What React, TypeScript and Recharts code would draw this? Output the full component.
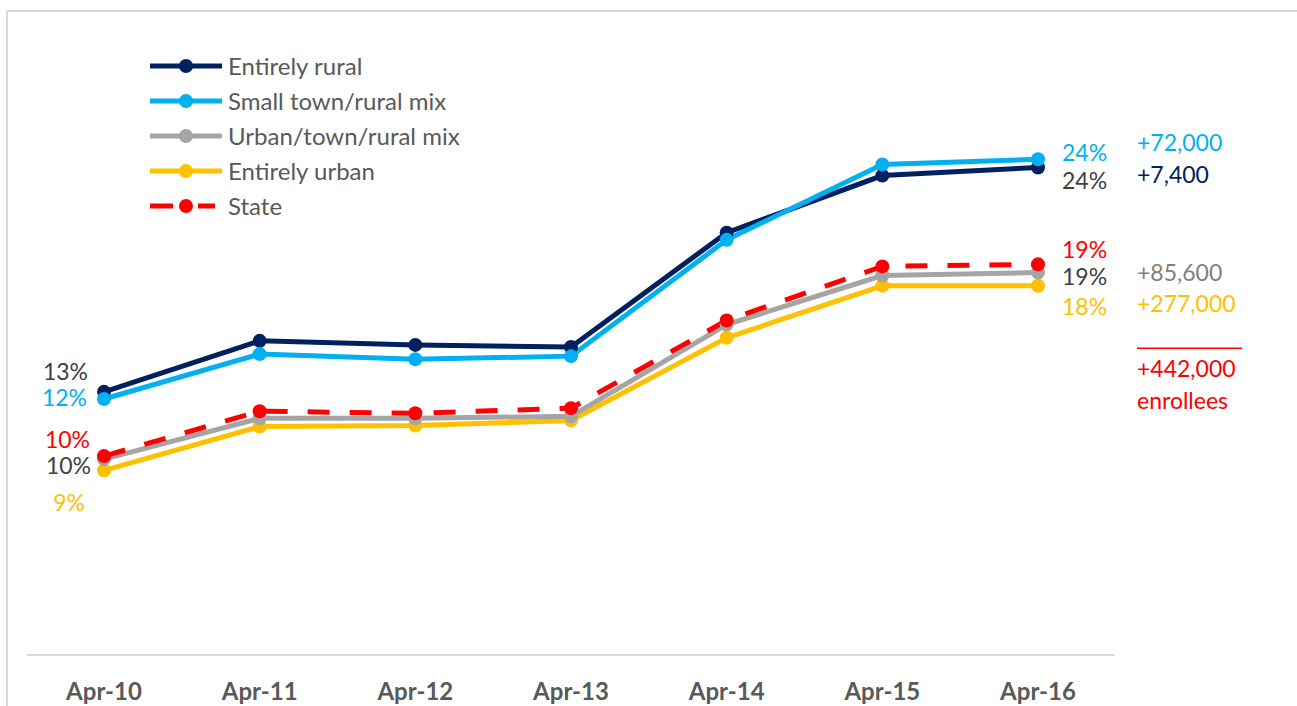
import { LabelList, Line, LineChart, XAxis, YAxis } from "recharts";

const months = ["Apr-10", "Apr-11", "Apr-12", "Apr-13", "Apr-14", "Apr-15", "Apr-16"];

// share of population enrolled, %
const entirelyRural = [12.9, 15.4, 15.2, 15.1, 20.7, 23.5, 23.9];
const smallTownRuralMix = [12.55, 14.75, 14.5, 14.65, 20.35, 24.05, 24.3];
const urbanTownRuralMix = [9.6, 11.6, 11.6, 11.7, 16.2, 18.6, 18.75];
const entirelyUrban = [9.05, 11.2, 11.25, 11.5, 15.55, 18.1, 18.1];
const stateTotal = [9.75, 11.95, 11.85, 12.1, 16.4, 19.05, 19.15];

const startLabels = ["13%", "12%", "10%", "9%", "10%"];
const endLabels = ["24%", "24%", "19%", "18%", "19%"];
const enrolleeChange = ["+7,400", "+72,000", "+85,600", "+277,000"];
const totalChange = "+442,000";
const totalChangeUnit = "enrollees";

const FONT = "Lato, 'Open Sans', sans-serif";
const FS = 24;
const LABEL_FS = 23;

type SeriesStyle = {
  key: string;
  name: string;
  color: string;
  labelColor: string;
  changeColor?: string;
  dashed?: boolean;
  startDx: number;
  startDy: number;
  endDy: number;
  changeDy: number;
};

const series: SeriesStyle[] = [
  { key: "rural", name: "Entirely rural", color: "#002060", labelColor: "#404040", changeColor: "#002060", startDx: -16, startDy: -21, endDy: 13, changeDy: 7 },
  { key: "small", name: "Small town/rural mix", color: "#00B0F0", labelColor: "#00B0F0", changeColor: "#00B0F0", startDx: -17, startDy: -2, endDy: -7, changeDy: -17 },
  { key: "mixed", name: "Urban/town/rural mix", color: "#A5A5A5", labelColor: "#404040", changeColor: "#7F7F7F", startDx: -13, startDy: 6, endDy: 3, changeDy: -1 },
  { key: "urban", name: "Entirely urban", color: "#FFC000", labelColor: "#FFC000", changeColor: "#FFC000", startDx: -19, startDy: 32, endDy: 20, changeDy: 17 },
  { key: "state", name: "State", color: "#FF0000", labelColor: "#FF0000", dashed: true, startDx: -14, startDy: -17, endDy: -15, changeDy: 0 },
];

const data = months.map((month, i) => ({
  month,
  rural: entirelyRural[i],
  small: smallTownRuralMix[i],
  mixed: urbanTownRuralMix[i],
  urban: entirelyUrban[i],
  state: stateTotal[i],
}));

const drawOrder = [0, 1, 3, 2, 4];

function makeLabel(idx: number) {
  const s = series[idx];
  return (props: any) => {
    const x = props.viewBox?.x ?? props.x;
    const y = props.viewBox?.y ?? props.y;
    const textProps = { dominantBaseline: "central" as const, fontSize: LABEL_FS, fontFamily: FONT };
    if (props.index === 0) {
      return (
        <text x={x + s.startDx} y={y + s.startDy} textAnchor="end" fill={s.labelColor} {...textProps}>
          {startLabels[idx]}
        </text>
      );
    }
    if (props.index === months.length - 1) {
      return (
        <g>
          <text x={x + 24} y={y + s.endDy} textAnchor="start" fill={s.labelColor} {...textProps}>
            {endLabels[idx]}
          </text>
          {s.changeColor && (
            <text x={x + 99} y={y + s.changeDy} textAnchor="start" fill={s.changeColor} {...textProps}>
              {enrolleeChange[idx]}
            </text>
          )}
          {s.key === "state" && (
            <g>
              <line x1={x + 99} x2={x + 204} y1={y + 84} y2={y + 84} stroke="#FF0000" strokeWidth={1.5} />
              <text x={x + 99} y={y + 104} fill="#FF0000" {...textProps}>{totalChange}</text>
              <text x={x + 99} y={y + 136} fill="#FF0000" {...textProps}>{totalChangeUnit}</text>
            </g>
          )}
        </g>
      );
    }
    return null;
  };
}

function LegendBox() {
  return (
    <div style={{ position: "absolute", left: 150, top: 48, fontFamily: FONT, fontSize: FS, color: "#595959" }}>
      {series.map((s) => (
        <div key={s.key} style={{ display: "flex", alignItems: "center", height: 35 }}>
          <svg width={72} height={16} style={{ marginRight: 6 }}>
            {s.dashed ? (
              <>
                <line x1={0} x2={23} y1={8} y2={8} stroke={s.color} strokeWidth={5} />
                <line x1={48} x2={65} y1={8} y2={8} stroke={s.color} strokeWidth={5} />
              </>
            ) : (
              <line x1={0} x2={72} y1={8} y2={8} stroke={s.color} strokeWidth={5} strokeLinecap="round" />
            )}
            <circle cx={36} cy={8} r={7} fill={s.color} />
          </svg>
          <span>{s.name}</span>
        </div>
      ))}
    </div>
  );
}

export default function App() {
  return (
    <div style={{ position: "absolute", left: 0, top: 0, width: 1297, height: 706, background: "#fff", fontFamily: FONT }}>
      <div
        style={{
          position: "absolute",
          left: 6,
          top: 10,
          right: 0,
          bottom: 0,
          borderTop: "2px solid #d9d9d9",
          borderLeft: "2px solid #d9d9d9",
        }}
      />
      <LineChart width={1297} height={706} data={data} margin={{ top: 43, right: 182, left: 27, bottom: 0 }}>
        <XAxis
          dataKey="month"
          height={51}
          padding={{ left: 77, right: 77 }}
          axisLine={{ stroke: "#d9d9d9", strokeWidth: 2 }}
          tickLine={false}
          tickMargin={22}
          tick={{ fill: "#595959", fontSize: FS, fontWeight: 700, fontFamily: FONT }}
        />
        <YAxis hide domain={[0, 30]} />
        {drawOrder.map((idx) => {
          const s = series[idx];
          return (
            <Line
              key={s.key}
              dataKey={s.key}
              name={s.name}
              type="linear"
              stroke={s.color}
              strokeWidth={5}
              strokeDasharray={s.dashed ? "22 20" : undefined}
              dot={{ r: 7, fill: s.color, stroke: s.color, strokeWidth: 0, strokeDasharray: "" }}
              activeDot={false}
              isAnimationActive={false}
            >
              <LabelList dataKey={s.key} content={makeLabel(idx)} />
            </Line>
          );
        })}
      </LineChart>
      <LegendBox />
    </div>
  );
}
